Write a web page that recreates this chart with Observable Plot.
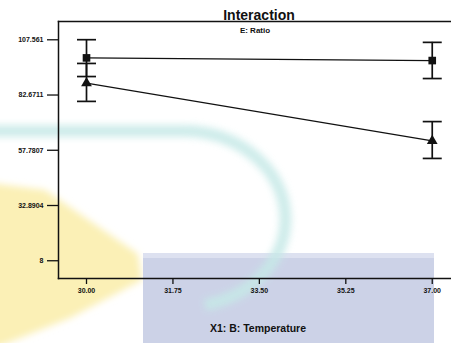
<!DOCTYPE html>
<html>
<head>
<meta charset="utf-8">
<script src="https://cdn.jsdelivr.net/npm/d3@7"></script>
<script src="https://cdn.jsdelivr.net/npm/@observablehq/plot@0.6"></script>
<style>
  html, body { margin: 0; padding: 0; background: #fff; }
  #wrap { position: relative; width: 451px; height: 343px; overflow: hidden; }
  #bg { position: absolute; left: 0; top: 0; }
  #chart { position: absolute; left: 0; top: 0; }
</style>
</head>
<body>
<div id="wrap">
  <svg id="bg" width="451" height="343">
    <defs><filter id="blur"><feGaussianBlur stdDeviation="3.5"/></filter></defs>
    <polygon points="-10,183 45,190 138,254 142,280 70,318 -10,350" fill="#fbf0b6" filter="url(#blur)"/>
    <rect x="143" y="253" width="291" height="95" fill="#ccd2e7"/>
    <rect x="143" y="253" width="291" height="5" fill="#dde1f0"/>
    <path d="M -10 131 H 182 A 102 88 0 0 1 205 305" fill="none" stroke="#c6e9e7" stroke-width="12" opacity="0.85" filter="url(#blur)"/>
  </svg>
  <div id="chart"></div>
</div>
<script>
// Data
const temperature = [30, 37];
const squareMean = [99.4, 98.2];
const squareLow  = [91.0, 90.1];
const squareHigh = [107.6, 106.4];
const triMean = [88.0, 62.0];
const triLow  = [79.8, 54.1];
const triHigh = [96.9, 70.7];
const xTicks = [30, 31.75, 33.5, 35.25, 37];
const yTicks = [8, 32.8904, 57.7807, 82.6711, 107.561];
const yTickLabels = ["8", "32.8904", "57.7807", "82.6711", "107.561"];
const titleText = "Interaction";
const subtitleText = "E: Ratio";
const xLabel = "X1: B: Temperature";

const squares = temperature.map((t, i) => ({t, y: squareMean[i], lo: squareLow[i], hi: squareHigh[i]}));
const tris = temperature.map((t, i) => ({t, y: triMean[i], lo: triLow[i], hi: triHigh[i]}));
const caps = [...squares, ...tris].flatMap(d => [{t: d.t, y: d.lo}, {t: d.t, y: d.hi}]);

const capSymbol = { draw(ctx) { ctx.moveTo(-9.5, 0); ctx.lineTo(9.5, 0); } };

const chart = Plot.plot({
  width: 451,
  height: 343,
  marginLeft: 58,
  marginRight: 0,
  marginTop: 21,
  marginBottom: 65,
  style: "background: transparent; font-family: 'Liberation Sans', Arial, sans-serif; font-size: 7px; font-weight: bold; color: #111; overflow: visible;",
  x: { domain: [29.433, 37.39] },
  y: { domain: [0, 115.8] },
  marks: [
    Plot.axisY({ ticks: yTicks, tickFormat: (d) => yTickLabels[yTicks.indexOf(d)], tickSize: 11, tickPadding: 4, label: null, strokeWidth: 1.3 }),
    Plot.axisX({ ticks: xTicks, tickFormat: (d) => d.toFixed(2), tickSize: 6, tickPadding: 4, label: null, strokeWidth: 1.3 }),
    Plot.frame({ anchor: "left", strokeWidth: 1.5 }),
    Plot.frame({ anchor: "top", strokeWidth: 1.5 }),
    Plot.frame({ anchor: "bottom", strokeWidth: 1.5 }),
    Plot.line(squares, { x: "t", y: "y", stroke: "#111", strokeWidth: 1.2 }),
    Plot.line(tris, { x: "t", y: "y", stroke: "#111", strokeWidth: 1.2 }),
    Plot.ruleX([...squares, ...tris], { x: "t", y1: "lo", y2: "hi", stroke: "#111", strokeWidth: 1.7 }),
    Plot.dot(caps, { x: "t", y: "y", symbol: capSymbol, stroke: "#111", strokeWidth: 1.7, fill: "none", r: 3 }),
    Plot.dot(squares, { x: "t", y: "y", symbol: "square", r: 4.3, fill: "#111", stroke: "none" }),
    Plot.dot(tris, { x: "t", y: "y", symbol: "triangle", r: 4, fill: "#111", stroke: "none" }),
    Plot.text([titleText], { frameAnchor: "top", dx: 4, dy: -2, lineAnchor: "bottom", fontSize: 14, fontWeight: "bold", fill: "#111" }),
    Plot.text([subtitleText], { frameAnchor: "top", dy: 9, lineAnchor: "middle", fontSize: 8, fontWeight: "bold", fill: "#111" }),
    Plot.text([xLabel], { frameAnchor: "bottom", dx: 3, dy: 50, lineAnchor: "middle", fontSize: 10.5, fontWeight: "bold", fill: "#111" })
  ]
});
document.getElementById("chart").appendChild(chart);
</script>
</body>
</html>
